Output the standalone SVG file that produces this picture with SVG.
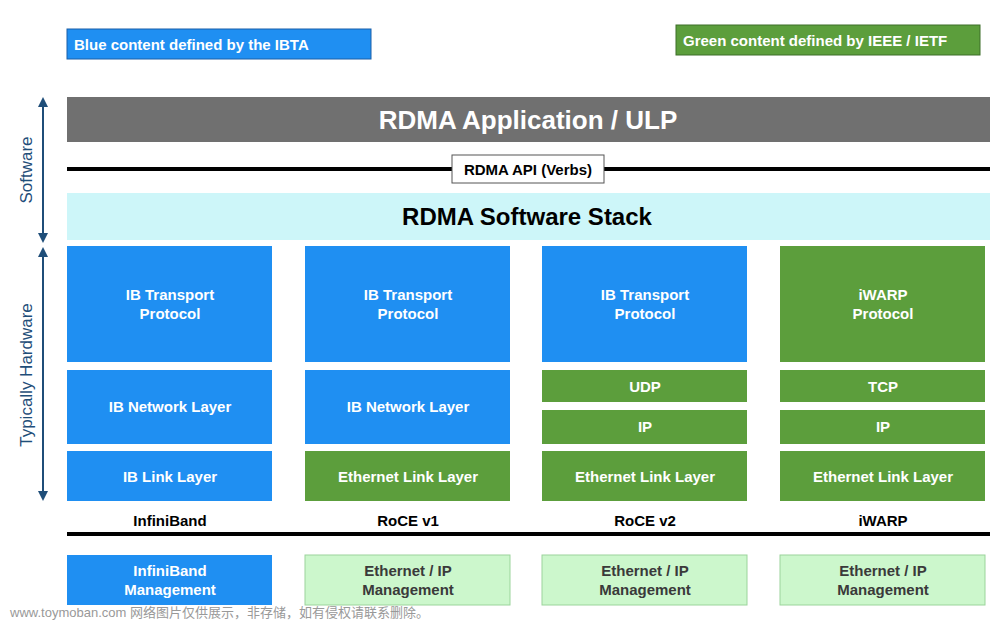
<svg xmlns="http://www.w3.org/2000/svg" width="1000" height="621" viewBox="0 0 1000 621">
<style>
text{font-family:"Liberation Sans",Arial,sans-serif;font-weight:bold;text-anchor:middle}
.b{fill:#1f8ff2}
.g{fill:#5c9e3c}
.lg{fill:#ccf7cc;stroke:#9bd49b;stroke-width:1}
.w{fill:#fff;font-size:15px}
.k{fill:#000;font-size:15px}
.gt{fill:#3a3a3a;font-size:15px}
.ax{stroke:#1f4e79;stroke-width:2;fill:none}
</style>
<defs>
<marker id="ah" viewBox="0 0 10 10" refX="5" refY="5" markerWidth="5" markerHeight="5" orient="auto-start-reverse"><path d="M0,0L10,5L0,10z" fill="#1f4e79"/></marker>
</defs>
<rect width="1000" height="621" fill="#fff"/>
<g id="legend-ibta"><rect x="67" y="29" width="304" height="30" class="b" stroke="#1a5fa8"/><text x="74" y="50" class="w" style="text-anchor:start">Blue content defined by the IBTA</text></g>
<g id="legend-ieee"><rect x="676" y="25" width="304" height="30" class="g" stroke="#3d6e28"/><text x="683" y="46" class="w" style="text-anchor:start">Green content defined by IEEE / IETF</text></g>
<g id="connectors">
<line x1="43" y1="102" x2="43" y2="238" class="ax" marker-start="url(#ah)" marker-end="url(#ah)"/>
<line x1="43" y1="252" x2="43" y2="496" class="ax" marker-start="url(#ah)" marker-end="url(#ah)"/>
<line x1="67" y1="169" x2="990" y2="169" stroke="#000" stroke-width="4"/>
<line x1="67" y1="534" x2="990" y2="534" stroke="#000" stroke-width="4"/>
</g>
<text x="32" y="170" transform="rotate(-90 32 170)" style="fill:#1f4e79;font-size:17px;font-weight:normal">Software</text>
<text x="32" y="375" transform="rotate(-90 32 375)" style="fill:#1f4e79;font-size:17px;font-weight:normal">Typically Hardware</text>
<g id="app"><rect x="67" y="97" width="923" height="45" fill="#707070"/><text x="528" y="129" style="fill:#fff;font-size:26px">RDMA Application / ULP</text></g>
<g id="api"><rect x="452" y="155" width="152" height="28" fill="#fff" stroke="#555"/><text x="528" y="175" class="k">RDMA API (Verbs)</text></g>
<g id="stack"><rect x="67" y="193" width="923" height="47" fill="#cdf6f9"/><text x="527" y="225" style="font-size:24px;fill:#000">RDMA Software Stack</text></g>
<g id="c1">
<rect x="67" y="246" width="205" height="116" class="b"/><text x="170" y="300" class="w">IB Transport</text><text x="170" y="319" class="w">Protocol</text>
<rect x="67" y="370" width="205" height="74" class="b"/><text x="170" y="412" class="w">IB Network Layer</text>
<rect x="67" y="451" width="205" height="50" class="b"/><text x="170" y="482" class="w">IB Link Layer</text>
<text x="170" y="526" class="k">InfiniBand</text>
<rect x="67" y="555" width="205" height="50" class="b"/><text x="170" y="576" class="w">InfiniBand</text><text x="170" y="595" class="w">Management</text>
</g>
<g id="c2">
<rect x="305" y="246" width="205" height="116" class="b"/><text x="408" y="300" class="w">IB Transport</text><text x="408" y="319" class="w">Protocol</text>
<rect x="305" y="370" width="205" height="74" class="b"/><text x="408" y="412" class="w">IB Network Layer</text>
<rect x="305" y="451" width="205" height="50" class="g"/><text x="408" y="482" class="w">Ethernet Link Layer</text>
<text x="408" y="526" class="k">RoCE v1</text>
<rect x="305" y="555" width="205" height="50" class="lg"/><text x="408" y="576" class="gt">Ethernet / IP</text><text x="408" y="595" class="gt">Management</text>
</g>
<g id="c3">
<rect x="542" y="246" width="205" height="116" class="b"/><text x="645" y="300" class="w">IB Transport</text><text x="645" y="319" class="w">Protocol</text>
<rect x="542" y="370" width="205" height="32" class="g"/><text x="645" y="392" class="w">UDP</text>
<rect x="542" y="410" width="205" height="34" class="g"/><text x="645" y="432" class="w">IP</text>
<rect x="542" y="451" width="205" height="50" class="g"/><text x="645" y="482" class="w">Ethernet Link Layer</text>
<text x="645" y="526" class="k">RoCE v2</text>
<rect x="542" y="555" width="205" height="50" class="lg"/><text x="645" y="576" class="gt">Ethernet / IP</text><text x="645" y="595" class="gt">Management</text>
</g>
<g id="c4">
<rect x="780" y="246" width="205" height="116" class="g"/><text x="883" y="300" class="w">iWARP</text><text x="883" y="319" class="w">Protocol</text>
<rect x="780" y="370" width="205" height="32" class="g"/><text x="883" y="392" class="w">TCP</text>
<rect x="780" y="410" width="205" height="34" class="g"/><text x="883" y="432" class="w">IP</text>
<rect x="780" y="451" width="205" height="50" class="g"/><text x="883" y="482" class="w">Ethernet Link Layer</text>
<text x="883" y="526" class="k">iWARP</text>
<rect x="780" y="555" width="205" height="50" class="lg"/><text x="883" y="576" class="gt">Ethernet / IP</text><text x="883" y="595" class="gt">Management</text>
</g>
<text x="10" y="617" style="text-anchor:start;font-weight:normal;font-size:13px;fill:#999;font-family:'Liberation Sans','Noto Sans CJK SC',sans-serif">www.toymoban.com 网络图片仅供展示，非存储，如有侵权请联系删除。</text>
</svg>
